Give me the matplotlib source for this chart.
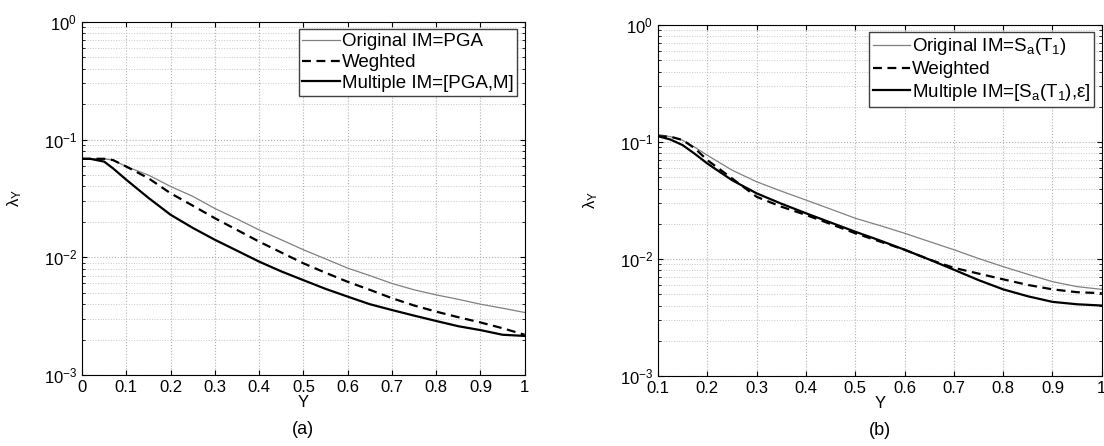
import numpy as np
from matplotlib import pyplot as plt
from matplotlib.ticker import LogLocator, NullFormatter

plt.rcParams['font.family'] = ['Liberation Sans', 'DejaVu Sans']
plt.rcParams['mathtext.fontset'] = 'custom'
plt.rcParams['mathtext.rm'] = 'Liberation Sans'
plt.rcParams['mathtext.it'] = 'Liberation Sans'

# panel (a): IM = PGA
ya = [0.0, 0.02, 0.05, 0.07, 0.1, 0.15, 0.2, 0.25, 0.3, 0.35, 0.4, 0.45, 0.5,
      0.55, 0.6, 0.65, 0.7, 0.75, 0.8, 0.85, 0.9, 0.95, 1.0]
orig_a = [0.0687, 0.0687, 0.0687, 0.067, 0.059, 0.050, 0.040, 0.033, 0.026, 0.0212,
          0.0171, 0.0141, 0.0116, 0.0097, 0.0081, 0.0070, 0.0060, 0.0053, 0.0048,
          0.0044, 0.0040, 0.0037, 0.0034]
weig_a = [0.0687, 0.0687, 0.0687, 0.067, 0.059, 0.047, 0.035, 0.0275, 0.0215, 0.0171,
          0.0136, 0.011, 0.0089, 0.0074, 0.0062, 0.0053, 0.0045, 0.0039, 0.00346,
          0.0031, 0.0028, 0.0025, 0.0022]
mult_a = [0.0687, 0.0685, 0.065, 0.057, 0.0456, 0.032, 0.023, 0.0178, 0.0141, 0.0114,
          0.0092, 0.0076, 0.0064, 0.0054, 0.00464, 0.0040, 0.00357, 0.0032, 0.00288,
          0.0026, 0.00241, 0.0022, 0.00215]

# panel (b): IM = Sa(T1)
yb = [0.1, 0.125, 0.15, 0.175, 0.2, 0.25, 0.3, 0.35, 0.4, 0.45, 0.5, 0.55, 0.6,
      0.65, 0.7, 0.75, 0.8, 0.85, 0.9, 0.95, 1.0]
orig_b = [0.116, 0.111, 0.1035, 0.090, 0.077, 0.0575, 0.0457, 0.038, 0.0319, 0.0267,
          0.0223, 0.0193, 0.0166, 0.0141, 0.012, 0.0101, 0.0086, 0.0074, 0.0064,
          0.0058, 0.0055]
weig_b = [0.112, 0.111, 0.104, 0.088, 0.070, 0.0489, 0.034, 0.028, 0.0238, 0.0199,
          0.0166, 0.0141, 0.012, 0.0099, 0.0084, 0.0075, 0.0067, 0.0060, 0.0055,
          0.0052, 0.0051]
mult_b = [0.112, 0.105, 0.094, 0.079, 0.0655, 0.0472, 0.0364, 0.0297, 0.0246, 0.0205,
          0.0171, 0.0144, 0.012, 0.0099, 0.0081, 0.0066, 0.0055, 0.0048, 0.0043,
          0.0041, 0.0040]

labels_a = ['Original IM=PGA', 'Weghted', 'Multiple IM=[PGA,M]']
labels_b = [r'Original IM=$\mathregular{S_a(T_1)}$', 'Weighted',
            r'Multiple IM=[$\mathregular{S_a(T_1)}$,ε]']

fig = plt.figure(figsize=(11.04, 4.46), dpi=100)
axa = fig.add_axes([0.0743, 0.159, 0.401, 0.792])
axb = fig.add_axes([0.596, 0.157, 0.402, 0.787])

def style(ax, x, o, w, m, labels, xlim, xticks, tag):
    ax.semilogy(x, o, color='#808080', lw=0.9, label=labels[0])
    ax.semilogy(x, w, 'k--', lw=1.6, dashes=(4, 2.5), label=labels[1])
    ax.semilogy(x, m, 'k-', lw=1.6, label=labels[2])
    ax.set_xlim(*xlim)
    ax.set_ylim(1e-3, 1)
    ax.set_xticks(xticks)
    ax.set_xticklabels(['%g' % t for t in xticks])
    ax.yaxis.set_major_locator(LogLocator(base=10, numticks=5))
    ax.yaxis.set_minor_locator(LogLocator(base=10, subs=np.arange(2, 10), numticks=20))
    ax.yaxis.set_minor_formatter(NullFormatter())
    ax.grid(True, which='major', ls=':', color='#b0b0b0', lw=0.8)
    ax.grid(True, which='minor', axis='y', ls=':', color='#c8c8c8', lw=0.7)
    ax.tick_params(direction='in', which='both', top=True, right=True, labelsize=12)
    ax.tick_params(which='minor', length=2)
    for s in ax.spines.values():
        s.set_linewidth(0.8)
    ax.set_xlabel('Y', fontsize=12, labelpad=0)
    ax.set_ylabel(r'$\mathregular{\lambda_Y}$', fontsize=12, labelpad=14)
    ax.text(0.5, -0.13, tag, transform=ax.transAxes, ha='center', va='top', fontsize=13)
    leg = ax.legend(loc='upper right', fontsize=13.5, handlelength=2.0, handletextpad=0.1,
                    borderpad=0.2, labelspacing=0.2, fancybox=False, framealpha=1,
                    borderaxespad=0.4)
    leg.get_frame().set_edgecolor('#404040')
    leg.get_frame().set_linewidth(1.0)

style(axa, ya, orig_a, weig_a, mult_a, labels_a, (0, 1),
      [0, 0.1, 0.2, 0.3, 0.4, 0.5, 0.6, 0.7, 0.8, 0.9, 1], '(a)')
style(axb, yb, orig_b, weig_b, mult_b, labels_b, (0.1, 1),
      [0.1, 0.2, 0.3, 0.4, 0.5, 0.6, 0.7, 0.8, 0.9, 1], '(b)')

plt.savefig('out.png', dpi=100)
